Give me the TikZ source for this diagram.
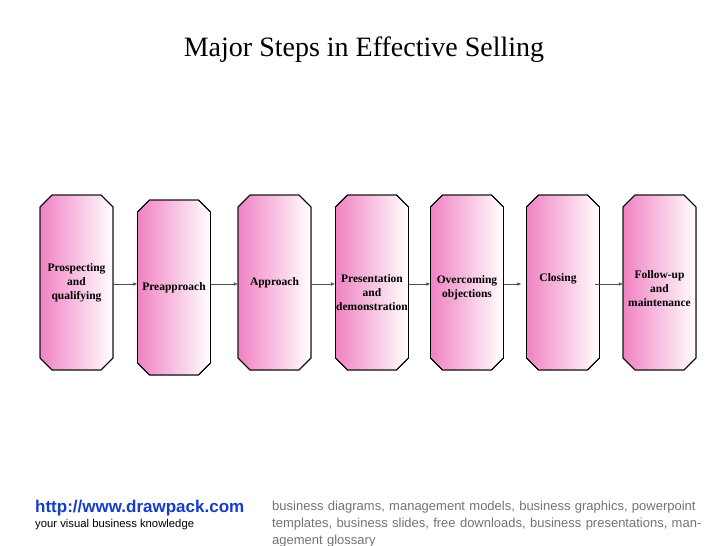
\documentclass[tikz,border=0pt]{standalone}
\usepackage{fontspec}
\setmainfont{Liberation Serif}
\newfontfamily\footfont{Liberation Sans}
\usetikzlibrary{arrows.meta}
\definecolor{stepPink}{RGB}{240,130,195}
\definecolor{linkBlue}{RGB}{20,60,200}
\tikzset{
  stepbox/.style={minimum width=73pt, minimum height=175pt, inner sep=1pt,
    font=\bfseries\fontsize{11.5}{14}\selectfont, align=center},
  stepfill/.style={draw=black, line width=0.8pt, left color=stepPink, right color=white},
  flow/.style={-{Latex[length=4pt,width=3.5pt]}, line width=0.5pt, black!70}
}
\begin{document}
\begin{tikzpicture}[x=1pt,y=-1pt]
\useasboundingbox (0,0) rectangle (728,546);
\node (title) at (364,50) {\fontsize{28}{32}\selectfont Major Steps in Effective Selling};
% pasos
\foreach \n/\x/\y in {prosp/76.5/282.5,preap/174/287.5,approach/274.5/282.5,present/372/282.5,
    overc/467/282.5,closing/563/282.5,follow/659.5/282.5}{
  \coordinate (c) at (\x,\y);
  \fill[stepfill] ([shift={(-36.5pt,75.5pt)}]c) -- ([shift={(-24.5pt,87.5pt)}]c) -- ([shift={(24.5pt,87.5pt)}]c)
    -- ([shift={(36.5pt,75.5pt)}]c) -- ([shift={(36.5pt,-75.5pt)}]c) -- ([shift={(24.5pt,-87.5pt)}]c)
    -- ([shift={(-24.5pt,-87.5pt)}]c) -- ([shift={(-36.5pt,-75.5pt)}]c) -- cycle;
  \draw[line width=0.8pt] ([shift={(-36.5pt,75.5pt)}]c) -- ([shift={(-24.5pt,87.5pt)}]c) -- ([shift={(24.5pt,87.5pt)}]c)
    -- ([shift={(36.5pt,75.5pt)}]c) -- ([shift={(36.5pt,-75.5pt)}]c) -- ([shift={(24.5pt,-87.5pt)}]c)
    -- ([shift={(-24.5pt,-87.5pt)}]c) -- ([shift={(-36.5pt,-75.5pt)}]c) -- cycle;
}
\node[stepbox] (prosp) at (76.5,282.5) {Prospecting\\and\\qualifying};
\node[stepbox] (preap) at (174,287.5) {Preapproach};
\node[stepbox] (approach) at (274.5,282.5) {Approach};
\node[stepbox] (present) at (372,293) {Presentation\\and\\demonstration};
\node[stepbox] (overc) at (467,288) {Overcoming\\objections};
\node[stepbox] (closing) at (558,279) {Closing};
\node[stepbox] (follow) at (659.5,288.5) {Follow-up\\and\\maintenance};
\foreach \a/\b in {prosp/preap,preap/approach,approach/present,present/overc,overc/closing,closing/follow}
  \draw[flow] (\a.east |- 0,284) -- (\b.west |- 0,284);
% pie
\node[anchor=west, text=linkBlue, font=\footfont\bfseries\fontsize{17}{20}\selectfont, inner sep=0pt] (url) at (35,508) {http://www.drawpack.com};
\node[anchor=west, font=\footfont\fontsize{11.3}{13}\selectfont, inner sep=0pt] (slogan) at (35,525) {your visual business knowledge};
\node[anchor=north west, text=black!55, text width=450pt, align=left,
  font=\footfont\fontsize{13}{17}\selectfont, inner sep=0pt] (tags) at (272,501)
  {business diagrams, management models, business graphics, powerpoint templates, business slides, free downloads, business presentations, management glossary};
\end{tikzpicture}
\end{document}
